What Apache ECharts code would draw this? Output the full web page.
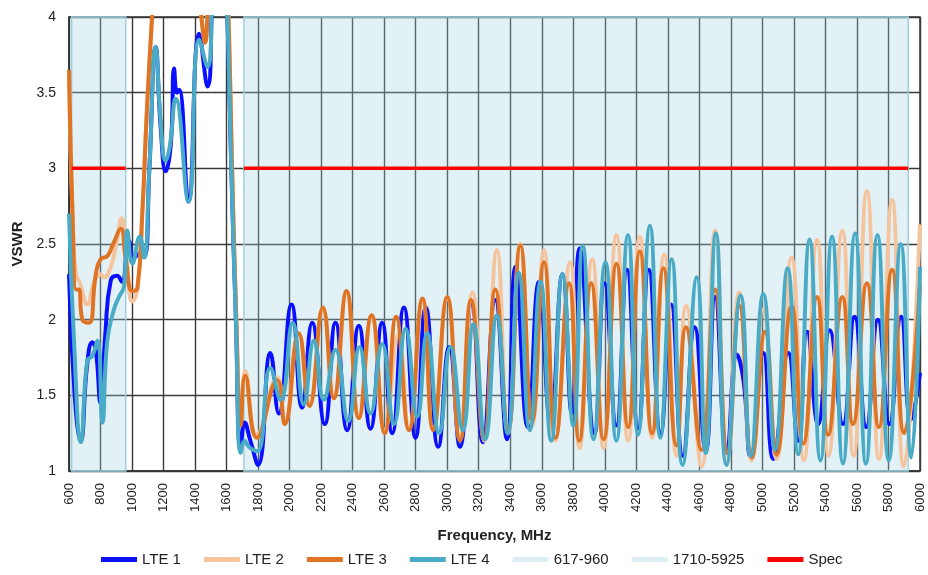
<!DOCTYPE html>
<html>
<head>
<meta charset="utf-8">
<script src="https://cdn.jsdelivr.net/npm/echarts@6/dist/echarts.min.js"></script>
<style>
  html, body { margin: 0; padding: 0; background: #fff; }
  #chart { width: 928px; height: 575px; }
</style>
</head>
<body>
<div id="chart"></div>
<script>
// VSWR readings [MHz, VSWR] (peaks / dips)
const lte1 = [[600,2.3],[636,1.5],[674,1.2],[715,1.7],[748,1.85],[770,1.8],[800,1.45],[830,1.9],[865,2.26],[905,2.29],[935,2.25],[981,2.52],[1013,2.41],[1055,2.44],[1080,2.42],[1110,3.0],[1150,3.8],[1182,3.27],[1214,2.98],[1246,3.16],[1267,3.66],[1285,3.5],[1299,3.52],[1358,2.78],[1426,3.89],[1478,3.54],[1530,4.5],[1580,4.6],[1605,4.0],[1630,3.0],[1659,2.0],[1690,1.15],[1715,1.32],[1751,1.2],[1800,1.04],[1878,1.78],[1931,1.38],[2012,2.1],[2079,1.42],[2143,1.98],[2223,1.31],[2291,1.98],[2365,1.27],[2439,1.96],[2513,1.28],[2587,1.98],[2651,1.25],[2725,2.08],[2799,1.22],[2864,2.08],[2943,1.16],[3013,1.82],[3081,1.16],[3156,2.1],[3226,1.19],[3305,2.13],[3379,1.21],[3433,2.35],[3511,1.29],[3582,2.25],[3656,1.33],[3731,2.3],[3790,1.38],[3840,2.47],[3934,1.25],[3998,2.24],[4073,1.3],[4141,2.33],[4211,1.28],[4279,2.33],[4354,1.25],[4420,2.1],[4495,1.1],[4570,1.95],[4640,1.13],[4700,2.15],[4775,1.12],[4838,1.77],[4880,1.6],[4926,1.09],[5006,1.78],[5069,1.08],[5164,1.78],[5227,1.2],[5284,1.92],[5354,1.31],[5427,1.93],[5511,1.31],[5585,2.02],[5659,1.29],[5733,2.0],[5806,1.31],[5880,2.02],[5943,1.34],[6000,1.65]];

const lte2 = [[600,3.6],[625,2.6],[645,2.3],[670,2.24],[716,2.1],[760,2.25],[800,2.3],[822,2.28],[865,2.35],[900,2.5],[934,2.67],[965,2.4],[1002,2.12],[1034,2.2],[1065,2.7],[1095,3.4],[1127,4.0],[1160,4.6],[1300,4.7],[1410,4.3],[1440,4.0],[1463,3.85],[1485,4.1],[1530,4.6],[1590,4.5],[1612,4.0],[1635,3.0],[1662,2.0],[1690,1.32],[1718,1.66],[1792,1.24],[1921,1.62],[1969,1.33],[2058,1.9],[2126,1.45],[2211,2.06],[2280,1.5],[2361,2.17],[2439,1.37],[2520,2.01],[2604,1.27],[2690,1.9],[2757,1.29],[2843,2.12],[2911,1.28],[3000,2.14],[3081,1.21],[3160,2.18],[3235,1.2],[3315,2.46],[3386,1.25],[3464,2.5],[3539,1.3],[3614,2.46],[3685,1.2],[3780,2.38],[3840,1.15],[3920,2.4],[3992,1.15],[4074,2.56],[4148,1.2],[4222,2.55],[4300,1.22],[4377,2.43],[4455,1.1],[4516,2.09],[4614,1.03],[4701,2.59],[4775,1.05],[4853,2.18],[4931,1.07],[5005,2.07],[5090,1.08],[5185,2.41],[5263,1.07],[5347,2.53],[5420,1.1],[5507,2.59],[5578,1.1],[5663,2.85],[5740,1.08],[5823,2.79],[5898,1.03],[6000,2.63]];

const lte3 = [[600,3.65],[625,2.6],[645,2.2],[662,2.2],[685,2.0],[727,1.98],[770,2.3],[801,2.4],[843,2.42],[880,2.5],[928,2.6],[960,2.4],[1002,2.19],[1034,2.21],[1065,2.7],[1095,3.4],[1127,4.0],[1160,4.6],[1300,4.7],[1410,4.3],[1440,4.0],[1463,3.83],[1485,4.1],[1530,4.6],[1590,4.5],[1612,4.0],[1635,3.0],[1662,2.0],[1690,1.3],[1718,1.63],[1792,1.22],[1921,1.6],[1969,1.31],[2058,1.91],[2126,1.43],[2211,2.08],[2280,1.48],[2361,2.19],[2439,1.35],[2520,2.03],[2604,1.25],[2676,2.02],[2757,1.27],[2843,2.14],[2911,1.27],[3000,2.15],[3081,1.2],[3151,2.13],[3235,1.21],[3305,2.2],[3386,1.27],[3464,2.49],[3539,1.33],[3614,2.38],[3688,1.22],[3773,2.24],[3838,1.2],[3913,2.24],[3992,1.21],[4074,2.37],[4148,1.29],[4222,2.45],[4300,1.25],[4372,2.34],[4455,1.17],[4515,1.95],[4614,1.14],[4700,2.2],[4778,1.12],[4855,2.09],[4933,1.09],[5017,1.92],[5090,1.11],[5185,2.09],[5259,1.18],[5347,2.15],[5417,1.24],[5507,2.15],[5575,1.31],[5663,2.24],[5739,1.29],[5823,2.33],[5900,1.25],[6000,2.23]];

const lte4 = [[600,2.7],[630,1.9],[676,1.19],[716,1.73],[748,1.76],[780,1.86],[812,1.32],[843,1.86],[886,2.07],[917,2.15],[949,2.22],[970,2.59],[1002,2.37],[1049,2.55],[1076,2.41],[1110,3.0],[1150,3.8],[1182,3.3],[1214,3.05],[1240,3.15],[1277,3.46],[1358,2.78],[1426,3.85],[1478,3.67],[1530,4.5],[1580,4.6],[1605,4.0],[1630,3.0],[1659,2.0],[1690,1.12],[1715,1.2],[1741,1.16],[1794,1.13],[1878,1.68],[1942,1.47],[2020,1.98],[2090,1.44],[2154,1.86],[2217,1.47],[2291,1.8],[2372,1.33],[2444,1.82],[2513,1.38],[2587,1.84],[2662,1.31],[2736,1.94],[2810,1.36],[2872,1.91],[2949,1.25],[3021,1.82],[3098,1.27],[3166,1.97],[3241,1.21],[3315,2.03],[3384,1.25],[3454,2.31],[3524,1.27],[3592,2.25],[3660,1.2],[3731,2.3],[3800,1.3],[3860,2.49],[3928,1.21],[4004,2.38],[4073,1.2],[4147,2.56],[4211,1.24],[4286,2.62],[4352,1.22],[4424,2.4],[4493,1.04],[4584,2.28],[4640,1.12],[4705,2.57],[4772,1.04],[4862,2.16],[4926,1.1],[5006,2.17],[5080,1.14],[5160,2.34],[5227,1.11],[5299,2.53],[5368,1.07],[5442,2.55],[5511,1.05],[5588,2.57],[5657,1.05],[5730,2.56],[5802,1.07],[5878,2.5],[5945,1.09],[6000,2.35]];

// frequency bands and spec limit
const bandNames = ['617-960', '1710-5925'];
const bandRanges = [[617, 960], [1710, 5925]];
const specLimit = 3;

const lteNames = ['LTE 1', 'LTE 2', 'LTE 3', 'LTE 4'];
const lteColors = ['#0a10ff', '#f5c39c', '#df7424', '#4aabc6'];
const lteData = [lte1, lte2, lte3, lte4];

const font = "'Liberation Sans', Arial, sans-serif";

// spec line: one segment per band, broken between them
const specData = [];
bandRanges.forEach((r, i) => {
    if (i > 0) specData.push([(bandRanges[i - 1][1] + r[0]) / 2, '-']);
    specData.push([r[0], specLimit], [r[1], specLimit]);
});

const series = [];
bandNames.forEach((name, i) => {
    series.push({
        name: name, type: 'line', data: [], z: 1,
        color: '#dcedf3',
        markArea: {
            silent: true,
            itemStyle: { color: 'rgba(155,208,225,0.3)', borderColor: '#9fd0df', borderWidth: 1.5 },
            data: [[{ xAxis: bandRanges[i][0] }, { xAxis: bandRanges[i][1] }]]
        }
    });
});
lteNames.forEach((name, i) => {
    series.push({
        name: name, type: 'line', data: lteData[i], z: 2,
        smooth: 0.5, showSymbol: false, symbol: 'none',
        color: lteColors[i],
        lineStyle: { width: 4, color: lteColors[i] }
    });
});
series.push({
    name: 'Spec', type: 'line', data: specData, z: 3,
    showSymbol: false, symbol: 'none', color: '#ff0000',
    lineStyle: { width: 3.5, color: '#ff0000' }
});

const chart = echarts.init(document.getElementById('chart'));
chart.setOption({
    animation: false,
    backgroundColor: '#fff',
    grid: { left: 69, right: 8, top: 17, bottom: 104, show: true, borderColor: '#333', borderWidth: 1.5, backgroundColor: 'transparent' },
    legend: {
        data: lteNames.concat(bandNames, ['Spec']),
        left: 96, bottom: 3,
        icon: 'rect', itemWidth: 36, itemHeight: 5, itemGap: 23,
        textStyle: { fontFamily: font, fontSize: 15, color: '#222' }
    },
    xAxis: {
        type: 'value', min: 600, max: 6000, interval: 200,
        name: 'Frequency, MHz', nameLocation: 'middle', nameGap: 57,
        nameTextStyle: { fontFamily: font, fontSize: 15, fontWeight: 'bold', color: '#222' },
        axisLine: { lineStyle: { color: '#333', width: 1.5 } },
        axisTick: { show: false },
        axisLabel: { rotate: 90, margin: 12, fontFamily: font, fontSize: 13, color: '#222', formatter: v => String(v) },
        splitLine: { show: true, lineStyle: { color: '#3a3a3a', width: 1.4 } }
    },
    yAxis: {
        type: 'value', min: 1, max: 4, interval: 0.5,
        name: 'VSWR', nameLocation: 'middle', nameGap: 42,
        nameTextStyle: { fontFamily: font, fontSize: 15, fontWeight: 'bold', color: '#222' },
        axisLine: { show: true, lineStyle: { color: '#333', width: 1.5 } },
        axisTick: { show: false },
        axisLabel: { margin: 13, fontFamily: font, fontSize: 14, color: '#222' },
        splitLine: { show: true, lineStyle: { color: '#3a3a3a', width: 1.4 } }
    },
    series: series
});
</script>
</body>
</html>
